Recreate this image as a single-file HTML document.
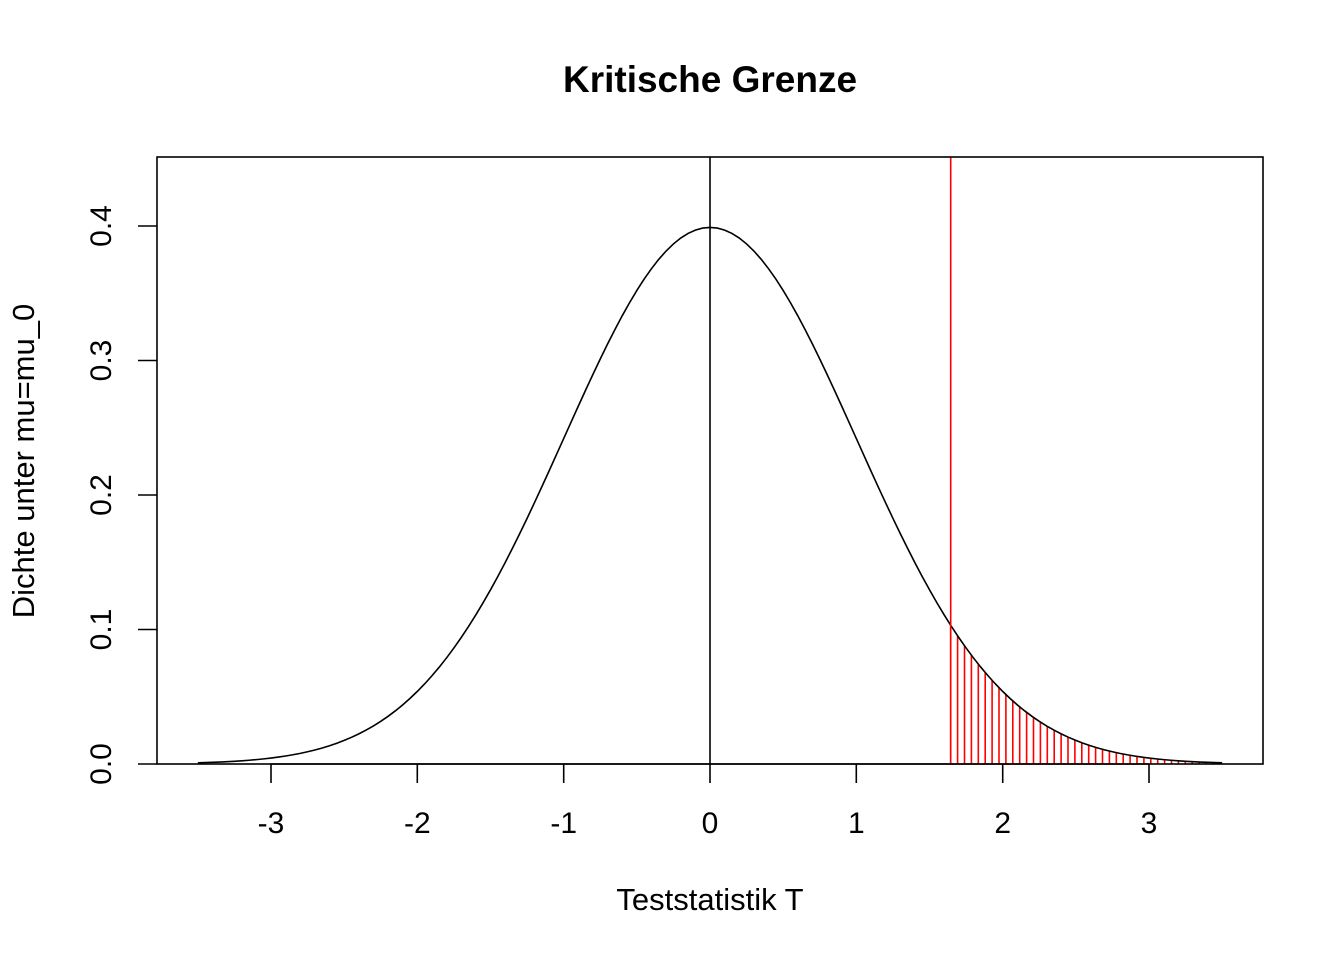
<!DOCTYPE html>
<html><head><meta charset="utf-8"><style>body{margin:0;background:#fff}svg{display:block}text{font-family:"Liberation Sans",sans-serif;fill:#000}</style></head>
<body>
<svg id="s" width="1344" height="960" xmlns="http://www.w3.org/2000/svg">
<text x="710" y="92" font-size="37" font-weight="bold" text-anchor="middle">Kritische Grenze</text>
<g id="hatch" stroke="#f00" stroke-width="1.6"></g>
<path id="curve" fill="none" stroke="#000" stroke-width="1.6"/>
<line x1="710" y1="157" x2="710" y2="764" stroke="#000" stroke-width="1.6"/>
<line x1="950.7" y1="157" x2="950.7" y2="764" stroke="#f00" stroke-width="1.6"/>
<rect x="157" y="157" width="1106" height="607" fill="none" stroke="#000" stroke-width="1.6"/>
<g stroke="#000" stroke-width="1.6">
<line x1="271" y1="764" x2="1149" y2="764"/>
<line x1="271" y1="764" x2="271" y2="783"/><line x1="417.3" y1="764" x2="417.3" y2="783"/><line x1="563.7" y1="764" x2="563.7" y2="783"/><line x1="710" y1="764" x2="710" y2="783"/><line x1="856.3" y1="764" x2="856.3" y2="783"/><line x1="1002.7" y1="764" x2="1002.7" y2="783"/><line x1="1149" y1="764" x2="1149" y2="783"/>
<line x1="157" y1="764" x2="138" y2="764"/><line x1="157" y1="629.5" x2="138" y2="629.5"/><line x1="157" y1="495" x2="138" y2="495"/><line x1="157" y1="360.5" x2="138" y2="360.5"/><line x1="157" y1="226" x2="138" y2="226"/>
</g>
<g font-size="30" text-anchor="middle">
<text x="271" y="833">-3</text><text x="417.3" y="833">-2</text><text x="563.7" y="833">-1</text><text x="710" y="833">0</text><text x="856.3" y="833">1</text><text x="1002.7" y="833">2</text><text x="1149" y="833">3</text>
<text transform="translate(111,764) rotate(-90)">0.0</text>
<text transform="translate(111,629.5) rotate(-90)">0.1</text>
<text transform="translate(111,495) rotate(-90)">0.2</text>
<text transform="translate(111,360.5) rotate(-90)">0.3</text>
<text transform="translate(111,226) rotate(-90)">0.4</text>
<text x="710" y="910" font-size="31">Teststatistik T</text>
<text transform="translate(34,461) rotate(-90)" font-size="31">Dichte unter mu=mu_0</text>
</g>
<script>
var NS="http://www.w3.org/2000/svg";
var X=function(t){return 710+t*146.33},Y=function(v){return 764-v*1345};
function f(t){return Math.exp(-t*t/2)/Math.sqrt(2*Math.PI)}
var d="";for(var i=0;i<=140;i++){var t=-3.5+i*0.05;d+=(i?"L":"M")+X(t).toFixed(2)+" "+Y(f(t)).toFixed(2)}
document.getElementById("curve").setAttribute("d",d);
var g=document.getElementById("hatch");
for(var x=950.7;x<=1222;x+=6.9){var t=(x-710)/146.33;var l=document.createElementNS(NS,"line");
l.setAttribute("x1",x);l.setAttribute("x2",x);l.setAttribute("y1",764);l.setAttribute("y2",Y(f(t)));g.appendChild(l);}
</script>
</svg>
</body></html>
